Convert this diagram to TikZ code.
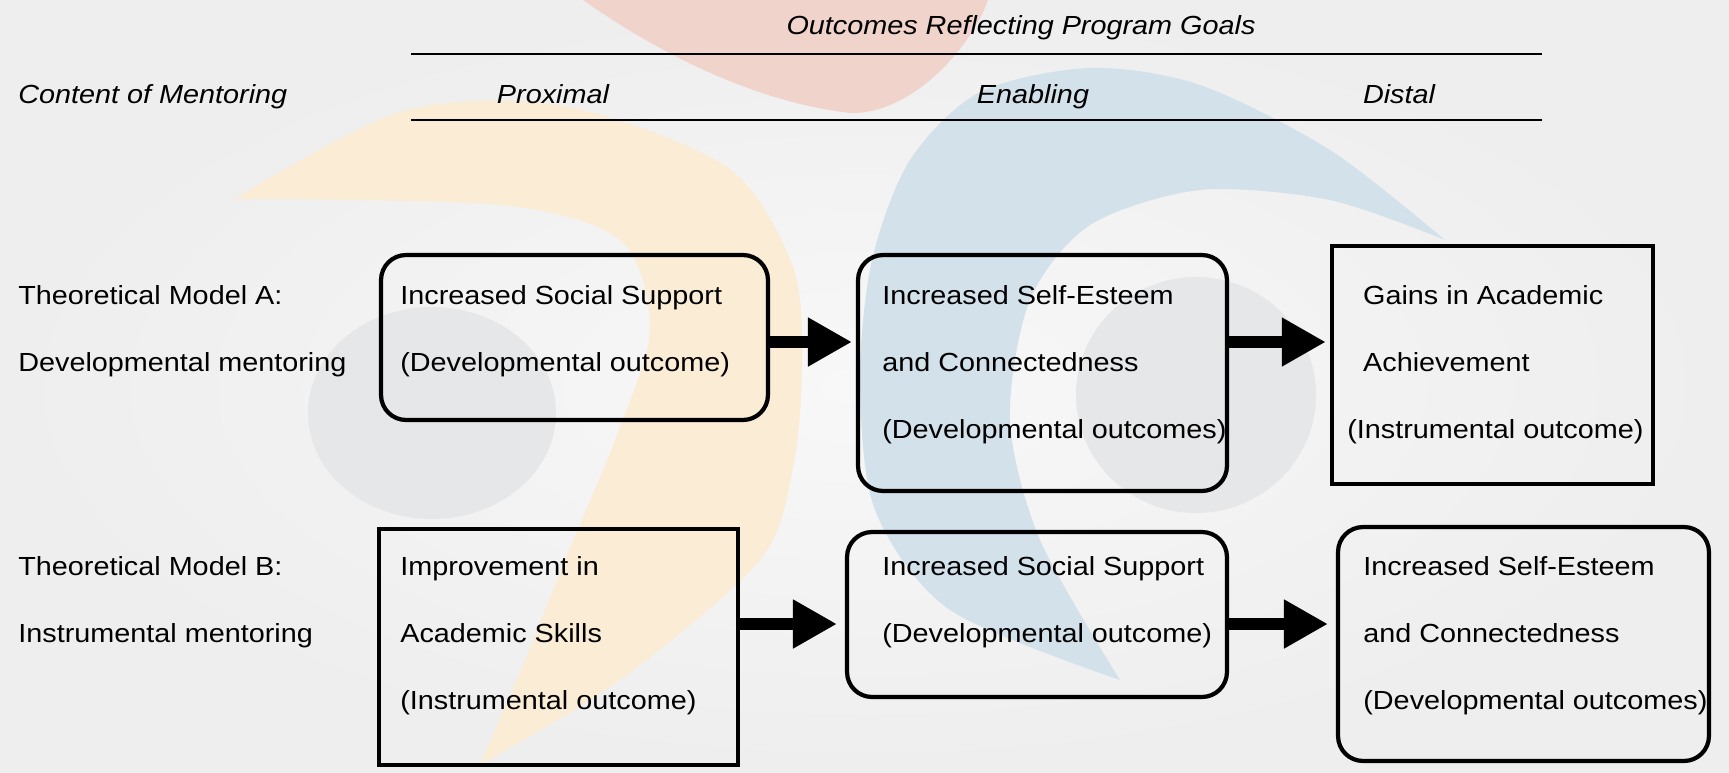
\documentclass[tikz,border=0pt]{standalone}
\usepackage{fontspec}
\setmainfont[FakeStretch=1.1]{Liberation Sans}
\usetikzlibrary{arrows.meta,calc}

\definecolor{bgin}{HTML}{F8F8F8}
\definecolor{bgout}{HTML}{EEEEEF}
\definecolor{decopink}{HTML}{F0D3CA}
\definecolor{decoorange}{HTML}{FBECD6}
\definecolor{decoblue}{HTML}{D3E1EB}
\definecolor{decogrey}{HTML}{E6E7E9}

\newcommand{\bodyfont}{\fontsize{14.9}{38.1}\selectfont}

\tikzset{
	roundbox/.style={draw, line width=2.4pt, rounded corners=0.5cm},
	squarebox/.style={draw, line width=2.6pt},
	boxtext/.style={anchor=west, inner sep=0pt, align=left, font=\bodyfont},
	headtext/.style={inner sep=0pt, anchor=base, font=\bodyfont\itshape},
	fatarrow/.style={line width=0.24cm, -{Triangle[length=0.88cm,width=0.92cm]}},
}

\begin{document}
\begin{tikzpicture}[x=0.02cm, y=-0.02cm]
			%%%%% START %%%%%
			
			\useasboundingbox (0, 0) rectangle (1729, 772);
			\shade[inner color=bgin, outer color=bgout] (0, 0) rectangle (1729, 772);
			
			% background marks
			\fill[decopink] (583, 0) .. controls (640, 40) and (740, 100) .. (850, 113)
				.. controls (910, 115) and (970, 50) .. (988, 0) -- cycle;
			\fill[decogrey] (432, 413) ellipse (124 and 106);
			\fill[decogrey] (1196, 395) ellipse (120 and 118);
			\fill[decoorange] plot[smooth] coordinates {(235, 199) (400, 112) (560, 105) (727, 167) (793, 267) (802, 367) (793, 467) (760, 560) (620, 680) (480, 765)}
				-- plot[smooth] coordinates {(480, 765) (525, 660) (565, 560) (615, 440) (650, 330) (620, 240) (500, 205) (235, 199)} -- cycle;
			\fill[decoblue] plot[smooth] coordinates {(1445, 240) (1330, 150) (1200, 85) (1090, 68) (980, 92) (910, 160) (872, 260) (860, 380) (875, 510) (950, 610) (1120, 680)}
				-- plot[smooth] coordinates {(1120, 680) (1040, 540) (1010, 420) (1030, 300) (1090, 225) (1200, 190) (1330, 200) (1445, 240)} -- cycle;
			
			% header
			\node[headtext] (title) at (1021, 34) {Outcomes Reflecting Program Goals};
			\draw[line width=0.9pt] (411, 54) -- (1542, 54);
			\node[headtext, anchor=base west] (content) at (18, 103) {Content of Mentoring};
			\node[headtext] (proximal) at (553, 103) {Proximal};
			\node[headtext] (enabling) at (1033, 103) {Enabling};
			\node[headtext] (distal) at (1399, 103) {Distal};
			\draw[line width=0.9pt] (411, 120) -- (1542, 120);
			
			% row labels
			\node[boxtext] (modelA) at (18, 331) {Theoretical Model A:\\Developmental mentoring};
			\node[boxtext] (modelB) at (18, 602) {Theoretical Model B:\\Instrumental mentoring};
			
			% model A
			\node[roundbox, minimum width=7.74cm, minimum height=3.30cm] (A1) at (574.5, 337.5) {};
			\node[roundbox, minimum width=7.38cm, minimum height=4.72cm] (A2) at (1042.5, 373) {};
			\node[squarebox, minimum width=6.42cm, minimum height=4.76cm] (A3) at (1492.5, 365) {};
			\node[boxtext] (A1t) at (400, 331) {Increased Social Support\\(Developmental outcome)};
			\node[boxtext] (A2t) at (882, 365) {Increased Self-Esteem\\and Connectedness\\(Developmental outcomes)};
			\node[boxtext] (A3t) at (1347, 365) {\hspace*{9pt}Gains in Academic\\\hspace*{9pt}Achievement\\(Instrumental outcome)};
			
			% model B
			\node[squarebox, minimum width=7.18cm, minimum height=4.72cm] (B1) at (558.5, 647) {};
			\node[roundbox, minimum width=7.60cm, minimum height=3.30cm] (B2) at (1037, 614.5) {};
			\node[roundbox, minimum width=7.42cm, minimum height=4.68cm] (B3) at (1523.5, 644) {};
			\node[boxtext] (B1t) at (400, 636) {Improvement in\\Academic Skills\\(Instrumental outcome)};
			\node[boxtext] (B2t) at (882, 602) {Increased Social Support\\(Developmental outcome)};
			\node[boxtext] (B3t) at (1363, 636) {Increased Self-Esteem\\and Connectedness\\(Developmental outcomes)};
			
			% arrows
			\coordinate (rowA) at (0, 342);
			\coordinate (rowB) at (0, 624);
			\draw[fatarrow] (A1.east |- rowA) -- ([xshift=-0.08cm]A2.west |- rowA);
			\draw[fatarrow] (A2.east |- rowA) -- ([xshift=-0.08cm]A3.west |- rowA);
			\draw[fatarrow] (B1.east |- rowB) -- ([xshift=-0.16cm]B2.west |- rowB);
			\draw[fatarrow] (B2.east |- rowB) -- ([xshift=-0.16cm]B3.west |- rowB);
			
			%%%%% END %%%%%
\end{tikzpicture}
\end{document}
